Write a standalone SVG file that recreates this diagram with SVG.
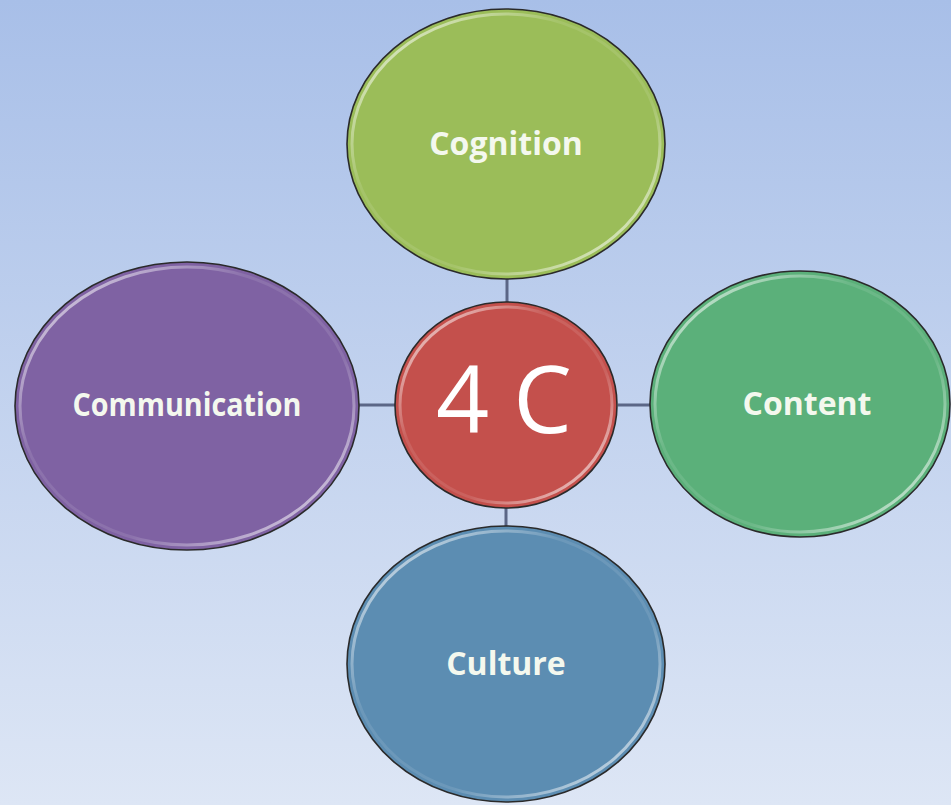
<svg xmlns="http://www.w3.org/2000/svg" width="951" height="805" viewBox="0 0 951 805">
<defs>
<linearGradient id="bg" x1="0" y1="0" x2="0" y2="1">
<stop offset="0" stop-color="#a8bfe8"/>
<stop offset="1" stop-color="#dde6f5"/>
</linearGradient>
<linearGradient id="hl" x1="0" y1="0" x2="1" y2="1">
<stop offset="0" stop-color="#fff" stop-opacity="0.85"/>
<stop offset="0.35" stop-color="#fff" stop-opacity="0.1"/>
<stop offset="0.65" stop-color="#fff" stop-opacity="0.1"/>
<stop offset="1" stop-color="#fff" stop-opacity="0.85"/>
</linearGradient>
<style>
.outer{stroke:#2a2a2a;stroke-width:1.6}
.hl{fill:none;stroke:url(#hl);stroke-width:3}
.lbl{font-family:"Open Sans","Liberation Sans",sans-serif;font-weight:bold;font-size:32px;fill:#f4f8ee;text-anchor:middle}
.big{font-family:"Open Sans","Liberation Sans",sans-serif;font-size:93px;fill:#ffffff;text-anchor:middle}
.conn{stroke:#5b6686;stroke-width:3;fill:none}
</style>
</defs>
<rect width="951" height="805" fill="url(#bg)"/>
<g id="connectors">
<line class="conn" x1="507" y1="278" x2="507" y2="303"/>
<line class="conn" x1="359" y1="405" x2="395" y2="405"/>
<line class="conn" x1="618" y1="405" x2="651" y2="405"/>
<line class="conn" x1="506" y1="507" x2="506" y2="527"/>
</g>
<g id="cognition">
<ellipse class="outer" cx="506" cy="144" rx="159" ry="135" fill="#9bbd59"/>
<ellipse class="hl" cx="506" cy="144" rx="154" ry="130"/>
<text class="lbl" x="506" y="155">Cognition</text>
</g>
<g id="communication">
<ellipse class="outer" cx="187" cy="406" rx="172" ry="144" fill="#7f62a3"/>
<ellipse class="hl" cx="187" cy="406" rx="167" ry="139"/>
<text class="lbl" x="187" y="416" textLength="229" lengthAdjust="spacingAndGlyphs">Communication</text>
</g>
<g id="content">
<ellipse class="outer" cx="800" cy="404" rx="150" ry="133" fill="#5bb07a"/>
<ellipse class="hl" cx="800" cy="404" rx="145" ry="128"/>
<text class="lbl" x="807" y="415">Content</text>
</g>
<g id="culture">
<ellipse class="outer" cx="506" cy="664" rx="159" ry="138" fill="#5c8db2"/>
<ellipse class="hl" cx="506" cy="664" rx="154" ry="133"/>
<text class="lbl" x="506" y="675">Culture</text>
</g>
<g id="center">
<ellipse class="outer" cx="506" cy="405" rx="111" ry="103" fill="#c4504c"/>
<ellipse class="hl" cx="506" cy="405" rx="106" ry="98"/>
<text class="big" x="504" y="433">4 C</text>
</g>
</svg>
